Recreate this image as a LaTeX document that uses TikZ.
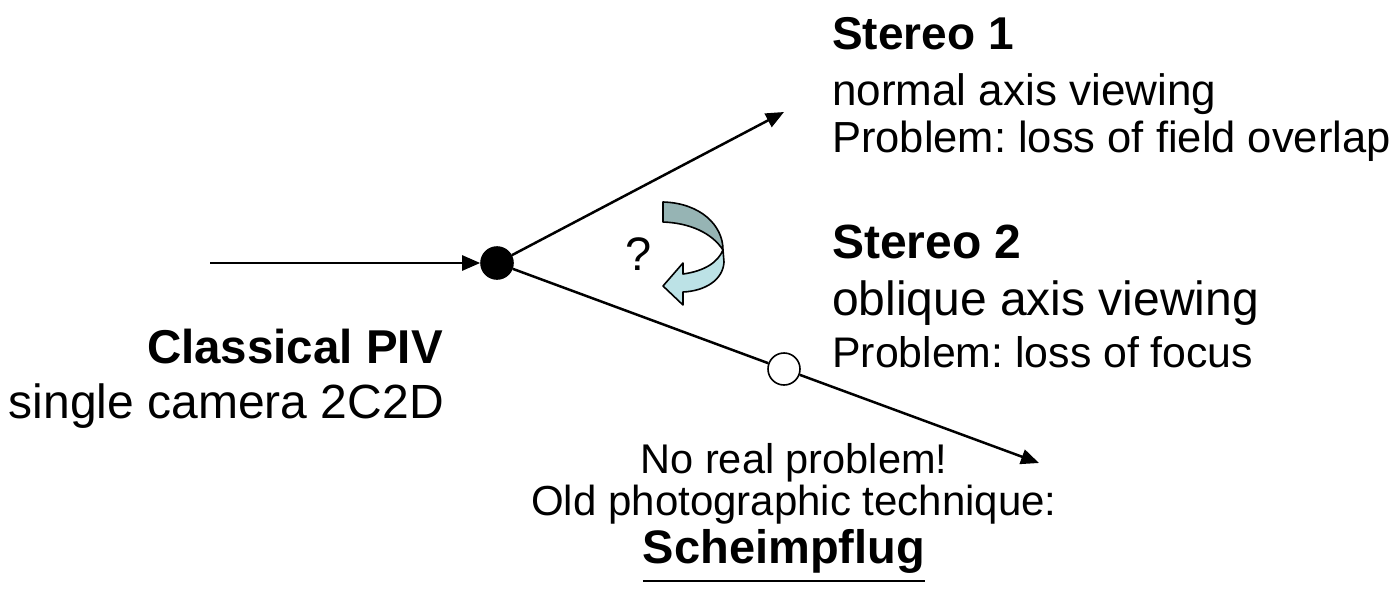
\documentclass[tikz,border=0pt]{standalone}
\usepackage{fontspec}
\setmainfont{Liberation Sans}
\usetikzlibrary{arrows.meta}
\definecolor{ribdark}{RGB}{150,180,180}
\definecolor{riblight}{RGB}{188,226,230}
\frenchspacing
\begin{document}
\begin{tikzpicture}[x=1pt,y=-1pt,
  conn/.style={line width=2.5pt,-{Triangle[length=18pt,width=15pt]}},
  plainline/.style={line width=2.5pt},
  junction/.style={circle,draw,line width=1.6pt,minimum size=32pt,inner sep=0pt},
  txt/.style={inner sep=0pt},
  ribbon/.style={draw=black,line width=1.6pt,line join=round}]
\useasboundingbox (0,0) rectangle (1392,589);

% junctions
\node[junction,fill=black] (dot) at (497,263) {};
\node[junction,fill=white] (wc) at (784,369) {};
\coordinate (src) at (210,263);
\coordinate (s1end) at (784,112);
\coordinate (s2end) at (1039,463);

% connectors
\draw[conn] (src) -- (dot);
\draw[conn] (dot) -- (s1end);
\draw[plainline] (dot) -- (wc);
\draw[conn] (wc) -- (s2end);

% curved ribbon arrow
\filldraw[ribbon,fill=ribdark] (663,202) .. controls (700,203) and (723,225) .. (723,250)
  .. controls (712,233) and (690,223) .. (663,222) -- cycle;
\filldraw[ribbon,fill=riblight] (723,250) -- (724,262) .. controls (723,280) and (705,291) .. (683,292)
  -- (683,305) -- (663,286) -- (683,263) -- (683,274)
  .. controls (705,271) and (718,262) .. (723,250) -- cycle;
\node[txt,font=\fontsize{47}{56}\selectfont,anchor=base] (q) at (639,270) {?};

% Stereo 1
\node[txt,font=\fontsize{46}{56}\selectfont\bfseries,anchor=base west] (s1title) at (832,49) {Stereo 1};
\node[txt,font=\fontsize{44}{56}\selectfont,anchor=base west] (s1view) at (832,105) {normal axis viewing};
\node[txt,font=\fontsize{43.5}{56}\selectfont,anchor=base west] (s1prob) at (832,152) {Problem: loss of field overlap};

% Stereo 2
\node[txt,font=\fontsize{48}{56}\selectfont\bfseries,anchor=base west] (s2title) at (832,258) {Stereo 2};
\node[txt,font=\fontsize{48}{56}\selectfont,anchor=base west] (s2view) at (832,315) {oblique axis viewing};
\node[txt,font=\fontsize{42.8}{56}\selectfont,anchor=base west] (s2prob) at (832,367) {Problem: loss of focus};

% Classical PIV
\node[txt,font=\fontsize{47.5}{56}\selectfont\bfseries,anchor=base east] (cltitle) at (443,363) {Classical PIV};
\node[txt,font=\fontsize{48}{56}\selectfont,anchor=base east] (clsub) at (444,418) {single camera 2C2D};

% Scheimpflug
\node[txt,font=\fontsize{41.5}{50}\selectfont,anchor=base] (nrp) at (794,473) {No real problem!};
\node[txt,font=\fontsize{42}{50}\selectfont,anchor=base] (old) at (794,515) {Old photographic technique:};
\node[txt,font=\fontsize{47}{56}\selectfont\bfseries,anchor=base] (sch) at (784,563) {Scheimpflug};
\draw[line width=2.5pt] ([yshift=-18pt]sch.base west) -- ([yshift=-18pt]sch.base east);
\end{tikzpicture}
\end{document}
